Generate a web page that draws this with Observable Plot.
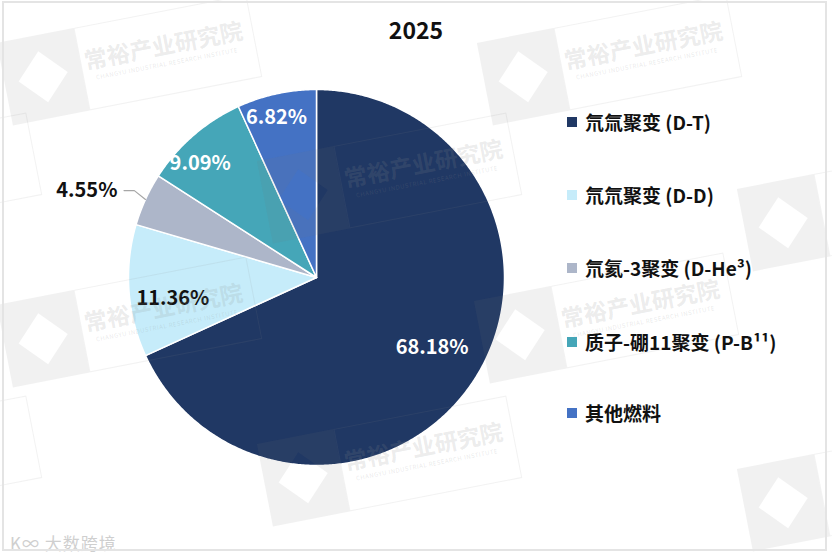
<!DOCTYPE html>
<html>
<head>
<meta charset="utf-8">
<script src="https://cdn.jsdelivr.net/npm/d3@7"></script>
<script src="https://cdn.jsdelivr.net/npm/@observablehq/plot@0.6"></script>
<style>
  html, body { margin: 0; padding: 0; background: #fff; }
  #wrap { position: relative; width: 832px; height: 560px; overflow: hidden;
          font-family: "Noto Sans CJK SC", "Noto Sans", sans-serif; }
  #frame { position: absolute; left: 2px; top: 1px; width: 825px; height: 550px;
           border: 2px solid #e4e4e4; box-sizing: border-box; pointer-events: none; }
  #title { position: absolute; left: 0; width: 832px; top: 12px; text-align: center;
           font-size: 23px; font-weight: 700; color: #111; line-height: 34px; }
  #legend { position: absolute; left: 567px; top: 0; }
  .item { position: absolute; white-space: nowrap; font-size: 19px; font-weight: 700; color: #111;
          display: flex; align-items: center; height: 26px; line-height: 26px; }
  .sw { width: 10px; height: 10px; margin-right: 8px; display: inline-block; }
  #brand { position: absolute; left: 10px; top: 530px; font-size: 17px; color: #cfcfcf; letter-spacing: 1px; }
  #wm { position: absolute; left: 0; top: 0; width: 832px; height: 560px; pointer-events: none; }
  .wmu { position: absolute; width: 0; height: 0; transform: rotate(-11deg); }
  .wmbox { position: absolute; left: -158px; top: -42px; width: 78px; height: 84px; overflow: visible; }
  .wmout { position: absolute; left: -80px; top: -42px; width: 176px; height: 84px;
           border: 1.5px solid rgba(140,140,140,0.11); box-sizing: border-box; }
  .wmtxt { position: absolute; left: -80px; top: -22px; width: 170px; text-align: center;
           font-size: 23px; font-weight: 700; color: rgba(140,140,140,0.18); white-space: nowrap; line-height: 26px; }
  .wmsub { position: absolute; left: -80px; top: 6px; width: 170px; text-align: center;
           font-size: 6px; color: rgba(140,140,140,0.2); white-space: nowrap; letter-spacing: 0.5px; }
</style>
</head>
<body>
<div id="wrap">
  <div id="chart"></div>
  <div id="wm"></div>
  <div id="title"></div>
  <div id="legend"></div>
  <div id="brand">K∞ 大数跨境</div>
  <div id="frame"></div>
</div>
<script>
// ---- data ----
const categories = ["氘氚聚变 (D-T)", "氘氘聚变 (D-D)", "氘氦-3聚变 (D-He³)", "质子-硼11聚变 (P-B¹¹)", "其他燃料"];
const shares = [68.18, 11.36, 4.55, 9.09, 6.82];
const valueLabels = ["68.18%", "11.36%", "4.55%", "9.09%", "6.82%"];
const colors = ["#203864", "#c6ecfa", "#adb6c9", "#45a6b8", "#4472c4"];
const labelColors = ["#ffffff", "#111111", "#111111", "#ffffff", "#ffffff"];
const titleText = "2025";
const watermarkText = "常裕产业研究院";
const watermarkSub = "CHANGYU INDUSTRIAL RESEARCH INSTITUTE";

// ---- layout (styling) ----
const W = 832, H = 560;
const cx = 316, cy = 277, R = 188;
const labelRadius = 0.75;
const labelNudge = [[-3, -6], [-3, 11], [0, 0], [-24, -7], [-10, -22]]; // px
const outsideIdx = 2;

// ---- geometry from values ----
const pieGen = d3.pie().sort(null).value(d => d)
  .startAngle(0).endAngle(2 * Math.PI);
const arcs = pieGen(shares);

const slicePts = [];
arcs.forEach((a, i) => {
  const name = categories[i];
  slicePts.push({name, x: 0, y: 0});
  const n = Math.max(2, Math.ceil((a.endAngle - a.startAngle) / (Math.PI / 360)));
  for (let k = 0; k <= n; k++) {
    const t = a.startAngle + (a.endAngle - a.startAngle) * k / n;
    slicePts.push({name, x: Math.sin(t), y: Math.cos(t)});
  }
  slicePts.push({name, x: 0, y: 0});
});

const labels = [];
const leader = [];
arcs.forEach((a, i) => {
  const mid = (a.startAngle + a.endAngle) / 2;
  if (i === outsideIdx) {
    const ex = Math.sin(mid), ey = Math.cos(mid);
    const bx = Math.sin(mid) * 1.065, by = Math.cos(mid) * 1.065 + 0.02;
    const tx = bx - 0.055;
    leader.push({x: ex, y: ey}, {x: bx, y: by}, {x: tx, y: by});
    labels.push({text: valueLabels[i], x: tx - 0.035, y: by, color: labelColors[i], anchor: "end"});
  } else {
    const [ndx, ndy] = labelNudge[i];
    labels.push({
      text: valueLabels[i],
      x: Math.sin(mid) * labelRadius + ndx / R,
      y: Math.cos(mid) * labelRadius - ndy / R,
      color: labelColors[i], anchor: "middle"
    });
  }
});

const chart = Plot.plot({
  width: W, height: H,
  margin: 0,
  style: {background: "transparent", fontFamily: "'Noto Sans CJK SC', sans-serif"},
  x: {domain: [-1, 1], range: [cx - R, cx + R], axis: null},
  y: {domain: [-1, 1], range: [cy + R, cy - R], axis: null},
  color: {domain: categories, range: colors},
  marks: [
    Plot.line(slicePts, {x: "x", y: "y", z: "name", fill: "name", stroke: "#ffffff",
                         strokeWidth: 1.5, strokeLinejoin: "round", curve: "linear"}),
    Plot.line(leader, {x: "x", y: "y", stroke: "#a6a6a6", strokeWidth: 1.2}),
    Plot.text(labels.filter(d => d.anchor === "middle"), {
      x: "x", y: "y", text: "text", fill: "color", fontSize: 20, fontWeight: 700
    }),
    Plot.text(labels.filter(d => d.anchor === "end"), {
      x: "x", y: "y", text: "text", fill: "color", fontSize: 20, fontWeight: 700, textAnchor: "end"
    })
  ]
});
document.getElementById("chart").appendChild(chart);

document.getElementById("title").textContent = titleText;

// legend
const legendCenters = [122, 195, 268, 342, 413];
const legend = document.getElementById("legend");
categories.forEach((c, i) => {
  const it = document.createElement("div");
  it.className = "item";
  it.style.top = (legendCenters[i] - 13) + "px";
  const sw = document.createElement("span");
  sw.className = "sw";
  sw.style.background = colors[i];
  const tx = document.createElement("span");
  tx.textContent = c;
  it.appendChild(sw); it.appendChild(tx);
  legend.appendChild(it);
});

// faint background watermarks (decoration of the source image)
const wmSpots = [[160, 54, true], [640, 54, true], [-60, 172, false], [420, 172, true], [900, 200, false],
                 [160, 316, true], [637, 312, true], [-60, 455, false], [420, 455, true], [900, 480, false]];
const wm = document.getElementById("wm");
wmSpots.forEach(([x, y, withText]) => {
  const u = document.createElement("div");
  u.className = "wmu";
  u.style.left = x + "px"; u.style.top = y + "px";
  let html = `<svg class="wmbox" width="78" height="84" viewBox="0 0 78 84">` +
    `<path fill-rule="evenodd" fill="rgba(120,120,120,0.1)" d="M0,0H78V84H0Z M39,16 L64,42 L39,68 L14,42 Z"/></svg>` +
    `<div class="wmout"></div>`;
  if (withText) html += `<div class="wmtxt">${watermarkText}</div><div class="wmsub">${watermarkSub}</div>`;
  u.innerHTML = html;
  wm.appendChild(u);
});
</script>
</body>
</html>
